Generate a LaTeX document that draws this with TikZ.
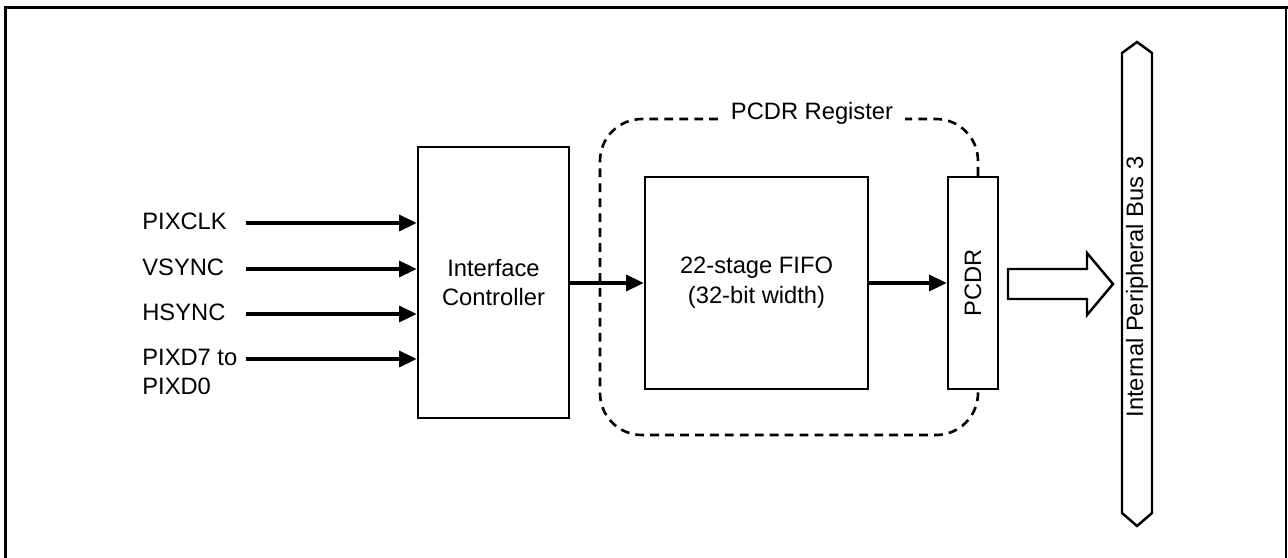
\documentclass[tikz,border=0pt]{standalone}
\usepackage{fontspec}
\setmainfont{Liberation Sans}
\usetikzlibrary{arrows.meta, positioning, calc}

\begin{document}
\begin{tikzpicture}[x=0.2mm, y=-0.2mm, font=\fontsize{13.5}{17}\selectfont,
    blockbox/.style={draw, line width=1.4pt, inner sep=0pt, align=center},
    sig/.style={line width=2pt, -{Triangle[length=10pt,width=9pt]}},
    inlabel/.style={anchor=west, inner sep=0pt, align=left},
    regline/.style={line width=1.5pt, dash pattern=on 5pt off 3.5pt}]
    \useasboundingbox (0,0) rectangle (1288,558);

    % Frame
    \draw[line width=2pt] (5.5,558) -- (5.5,7.5) -- (1288,7.5);
    \draw[line width=1.4pt] (1286,7.5) -- (1286,558);

    % Blocks
    \node[blockbox, minimum width=30.2mm, minimum height=54.2mm] (ic) at (493.5,282.5) {Interface\\Controller};
    \node[blockbox, minimum width=44.6mm, minimum height=42.4mm] (fifo) at (756.5,283) {22-stage FIFO\\(32-bit width)};
    \node[blockbox, minimum width=10mm, minimum height=42.4mm] (pcdr) at (973,283) {};
    \node[rotate=90] (pcdrtext) at (pcdr.center) {PCDR};

    % Inputs
    \node[inlabel] (pixclk) at (142,221) {PIXCLK};
    \node[inlabel] (vsync) at (142,267) {VSYNC};
    \node[inlabel] (hsync) at (142,312) {HSYNC};
    \node[inlabel] (pixd) at (142,372) {PIXD7 to\\PIXD0};
    \foreach \name/\y in {clkin/223, vin/269, hin/314, din/359} {
        \coordinate (\name) at (246,\y);
        \draw[sig] (\name) -- (\name -| ic.west);
    }

    % Data path
    \draw[sig] (ic.east |- fifo.center) -- (fifo.west);
    \draw[sig] (fifo.east) -- (pcdr.west);

    % PCDR register outline
    \draw[regline, rounded corners=8.4mm] ($(pcdr.north)+(5,0)$) -- (978,119) -- (600,119)
        -- (600,435) -- (978,435) -- ($(pcdr.south)+(5,0)$);
    \node[fill=white, inner xsep=7pt, inner ysep=1pt] (reglabel) at (812,113) {PCDR Register};

    % Bus
    \draw[line width=1.4pt] (1008,269) -- (1087,269) -- (1087,253) -- (1113,284)
        -- (1087,315) -- (1087,299) -- (1008,299) -- cycle;
    \draw[line width=1.4pt] (1122,53) -- (1137,42) -- (1152,53) -- (1152,513)
        -- (1137,526) -- (1122,513) -- cycle;
    \node[rotate=90] (bus) at (1137,287) {Internal Peripheral Bus 3};

\end{tikzpicture}
\end{document}
